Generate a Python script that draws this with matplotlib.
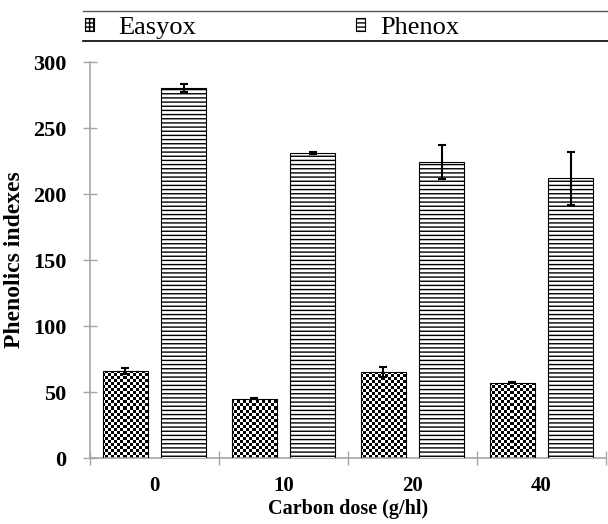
import numpy as np
import matplotlib
matplotlib.use('Agg')
import matplotlib.pyplot as plt
from matplotlib.patches import Patch
from matplotlib.lines import Line2D

# Data
doses = ['0', '10', '20', '40']
easyox = [66, 45, 65, 57]
easyox_err = [2, 0.5, 4, 0.5]
phenox = [280, 231, 224, 212]
phenox_err = [3, 0.5, 13, 20]

plt.rcParams['font.family'] = ['Liberation Serif', 'DejaVu Serif']
plt.rcParams['hatch.linewidth'] = 1.0

fig = plt.figure(figsize=(6.08, 5.24), dpi=100)
# axes: 516 x 396 px
ax = fig.add_axes([90 / 608, 66 / 524, 516 / 608, 396 / 524])

x = np.arange(len(doses))
w = 0.35
off = 0.225

# Easyox bars: checkerboard fill via clipped image
bars_e = ax.bar(x - off, easyox, w, facecolor='none', edgecolor='black',
                linewidth=0.8, zorder=3)
ax.errorbar(x - off, easyox, yerr=easyox_err, fmt='none', ecolor='black',
            elinewidth=1.5, capsize=3, capthick=1.5, zorder=4)

# Phenox bars: horizontal lines
bars_p = ax.bar(x + off, phenox, w, facecolor='white', edgecolor='black',
                hatch='----', linewidth=0.8, zorder=3)
ax.errorbar(x + off, phenox, yerr=phenox_err, fmt='none', ecolor='black',
            elinewidth=1.5, capsize=3, capthick=1.5, zorder=4)

checker = (np.indices((132, 172)).sum(axis=0) % 2).astype(float)
for b in bars_e:
    im = ax.imshow(checker, cmap='gray', extent=(-0.5, 3.5, 0, 300),
                   interpolation='nearest', aspect='auto', zorder=2)
    im.set_clip_path(b)
ax.set_xlim(-0.5, 3.5)
ax.set_ylim(0, 300)

# spines / ticks
for s in ['top', 'right']:
    ax.spines[s].set_visible(False)
for s in ['left', 'bottom']:
    ax.spines[s].set_color('#a6a6a6')
    ax.spines[s].set_linewidth(1.2)

ax.set_yticks([0, 50, 100, 150, 200, 250, 300])
ax.set_xticks(x)
ax.set_xticklabels(doses)
ax.set_xticks(np.arange(-0.5, 4.0, 1.0), minor=True)
ax.tick_params(axis='x', which='major', length=0, pad=13)
ax.tick_params(axis='x', which='minor', direction='inout', length=10,
               color='#a6a6a6', width=1)
ax.tick_params(axis='y', direction='inout', length=10, color='#a6a6a6',
               width=1, pad=12)
for lab in ax.get_xticklabels():
    lab.set_fontweight('bold')
    lab.set_fontsize(15)
for lab in ax.get_yticklabels():
    lab.set_fontweight('bold')
    lab.set_fontsize(16)

ax.set_xlabel('Carbon dose (g/hl)', fontsize=14.5, fontweight='bold', labelpad=2)
ax.set_ylabel('Phenolics indexes', fontsize=17, fontweight='bold', labelpad=6)

# legend above the plot, one entry at a time
leg_kw = dict(loc='center left', frameon=False, fontsize=19, handlelength=0.35,
              handleheight=0.35, borderpad=0, borderaxespad=0)
fig.legend([Patch(facecolor='white', edgecolor='black', hatch='++++', linewidth=0.8)],
           ['Easyox'], bbox_to_anchor=(85 / 608, 1 - 28 / 524),
           handletextpad=0.9, **leg_kw)
fig.legend([Patch(facecolor='white', edgecolor='black', hatch='----', linewidth=0.8)],
           ['Phenox'], bbox_to_anchor=(356 / 608, 1 - 28 / 524),
           handletextpad=0.55, **leg_kw)
fig.add_artist(Line2D([83 / 608, 1.0], [1 - 11 / 524, 1 - 11 / 524],
                      color='#555555', linewidth=1.0))
fig.add_artist(Line2D([83 / 608, 1.0], [1 - 41 / 524, 1 - 41 / 524],
                      color='black', linewidth=1.2))

fig.savefig('out.png', dpi=100, facecolor='white')
